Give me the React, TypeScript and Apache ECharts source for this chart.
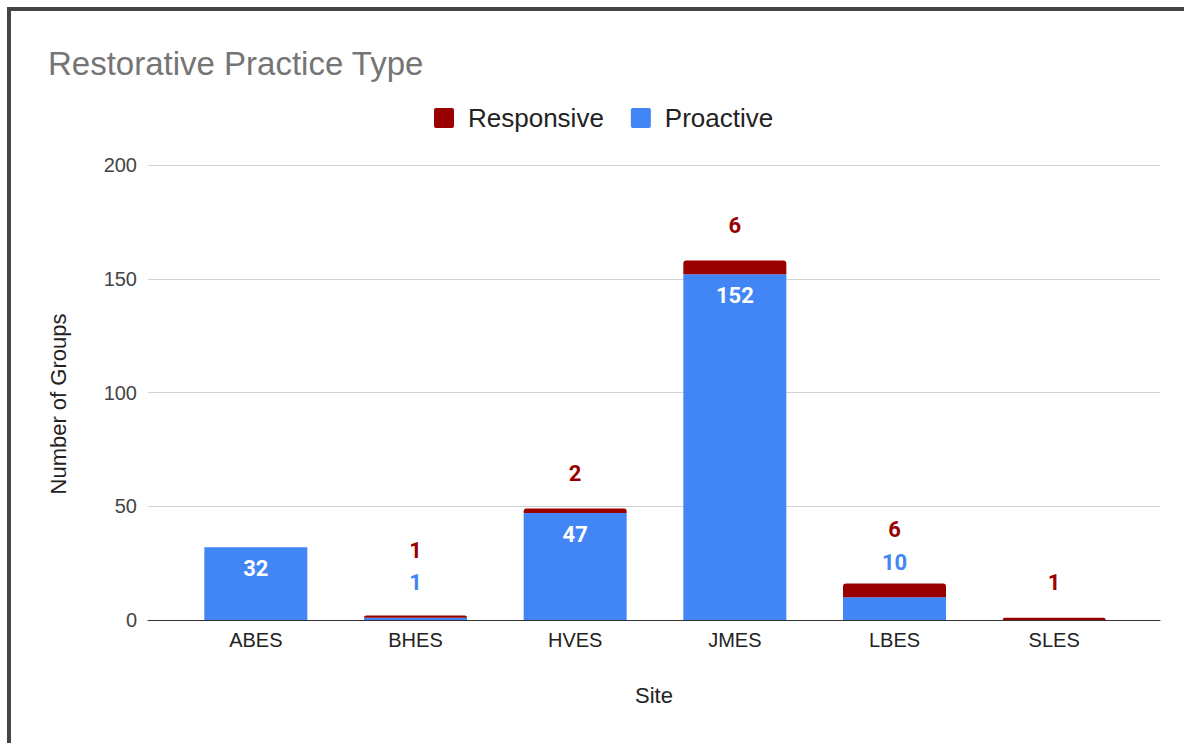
import React, { useEffect, useRef } from "react";
import * as echarts from "echarts";

const categories = ["ABES", "BHES", "HVES", "JMES", "LBES", "SLES"];
const proactive: (number | null)[] = [32, 1, 47, 152, 10, null];
const responsive: (number | null)[] = [null, 1, 2, 6, 6, 1];
const yMin = 0;
const yMax = 200;
const yInterval = 50;

const FONT = "'Liberation Sans', Arial, sans-serif";
const LABEL_FONT = "Roboto, 'Liberation Sans', sans-serif";

export default function App() {
  const ref = useRef<HTMLDivElement>(null);

  useEffect(() => {
    if (!ref.current) return;
    const chart = echarts.init(ref.current, null, { renderer: "svg" });
    const W = 1184;
    const H = 743;
    const gridTop = 165;
    const gridBottom = 123;
    const plotH = H - gridTop - gridBottom;
    const k = plotH / (yMax - yMin);
    const LABEL_FS = 22;
    const insideMinPx = 40;

    const proData = proactive.map((v) => {
      if (v == null) return "-";
      const inside = v * k >= insideMinPx;
      return {
        value: v,
        label: inside
          ? { position: "insideTop", distance: 10, color: "#ffffff" }
          : { position: "top", distance: 35 - LABEL_FS / 2, color: "#4285F4" },
      };
    });

    const resData = responsive.map((v, i) => {
      if (v == null) return "-";
      const p = proactive[i] ?? 0;
      const stackH = (p + v) * k;
      let center = stackH + 35;
      if (p > 0 && p * k < insideMinPx) center = Math.max(center, p * k + 35 + 32.5);
      return { value: v, label: { distance: center - stackH - LABEL_FS / 2 } };
    });

    chart.setOption({
      animation: false,
      backgroundColor: "transparent",
      title: {
        text: "Restorative Practice Type",
        left: 48,
        top: 47,
        padding: 0,
        textStyle: { fontSize: 33, fontWeight: "normal", color: "#757575", fontFamily: FONT },
      },
      legend: {
        data: ["Responsive", "Proactive"],
        left: 429,
        top: 100,
        itemWidth: 20,
        itemHeight: 20,
        itemGap: 27,
        icon: "path://M2,0 L18,0 Q20,0 20,2 L20,18 Q20,20 18,20 L2,20 Q0,20 0,18 L0,2 Q0,0 2,0 Z",
        textStyle: { fontSize: 26, color: "#222222", fontFamily: FONT, padding: [0, 0, 0, 9] },
      },
      grid: [
        { left: 148, right: W - 1160, top: gridTop, bottom: gridBottom },
        { left: 176, right: W - 1134, top: gridTop, bottom: gridBottom },
      ],
      xAxis: [
        {
          gridIndex: 0,
          type: "category",
          data: categories,
          axisLabel: { show: false },
          axisTick: { show: false },
          axisLine: { show: true, lineStyle: { color: "#333333", width: 1 } },
          name: "Site",
          nameLocation: "middle",
          nameGap: 64,
          nameTextStyle: { fontSize: 22, color: "#222222", fontFamily: FONT },
        },
        {
          gridIndex: 1,
          type: "category",
          data: categories,
          axisLine: { show: false },
          axisTick: { show: false },
          axisLabel: { fontSize: 20, color: "#222222", margin: 10, fontFamily: FONT },
        },
      ],
      yAxis: [
        {
          gridIndex: 0,
          type: "value",
          min: yMin,
          max: yMax,
          interval: yInterval,
          axisLine: { show: false },
          axisTick: { show: false },
          axisLabel: { fontSize: 20, color: "#444444", margin: 11, fontFamily: FONT },
          splitLine: { lineStyle: { color: "#d3d3d3", width: 1 } },
        },
        {
          gridIndex: 1,
          type: "value",
          min: yMin,
          max: yMax,
          interval: yInterval,
          show: false,
          splitLine: { show: false },
        },
      ],
      graphic: [
        {
          type: "text",
          x: 58,
          y: 404,
          rotation: Math.PI / 2,
          style: {
            text: "Number of Groups",
            fontSize: 22,
            fontFamily: FONT,
            fill: "#222222",
            align: "center",
            verticalAlign: "middle",
          },
        },
      ],
      series: [
        {
          name: "Proactive",
          type: "bar",
          stack: "total",
          xAxisIndex: 1,
          yAxisIndex: 1,
          barWidth: 103,
          itemStyle: { color: "#4285F4" },
          label: {
            show: true,
            fontSize: LABEL_FS,
            fontWeight: "bold",
            fontFamily: LABEL_FONT,
          },
          data: proData,
        },
        {
          name: "Responsive",
          type: "bar",
          stack: "total",
          xAxisIndex: 1,
          yAxisIndex: 1,
          barWidth: 103,
          itemStyle: { color: "#990000", borderRadius: [3, 3, 0, 0] },
          label: {
            show: true,
            position: "top",
            fontSize: LABEL_FS,
            fontWeight: "bold",
            color: "#990000",
            fontFamily: LABEL_FONT,
          },
          data: resData,
        },
      ],
    });

    return () => chart.dispose();
  }, []);

  return (
    <div style={{ position: "fixed", left: 0, top: 0, width: 1184, height: 743, background: "#ffffff" }}>
      <div ref={ref} style={{ position: "absolute", left: 0, top: 0, width: 1184, height: 743 }} />
      <div
        style={{
          position: "absolute",
          left: 7,
          top: 7,
          right: 0,
          bottom: 0,
          borderTop: "4px solid #454545",
          borderLeft: "4px solid #454545",
          pointerEvents: "none",
        }}
      />
    </div>
  );
}
